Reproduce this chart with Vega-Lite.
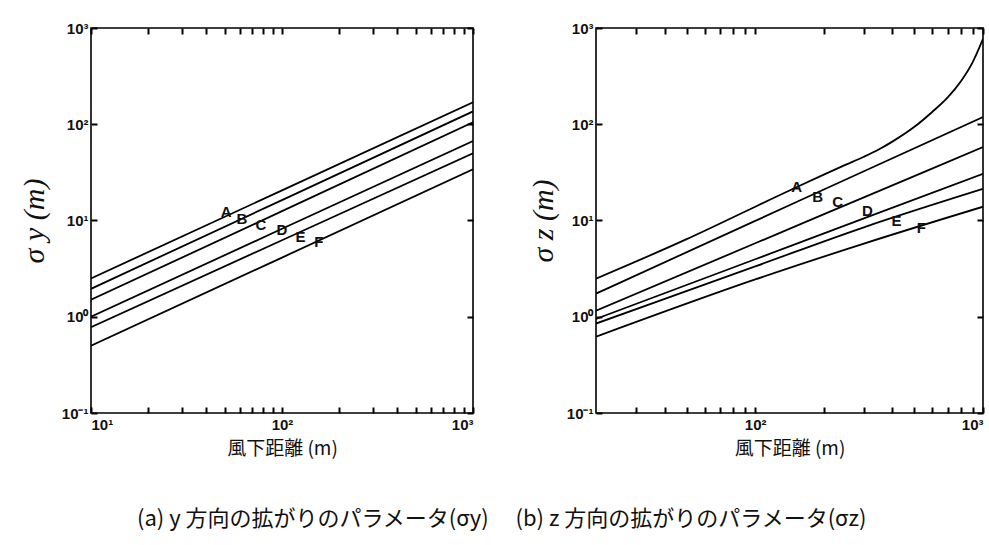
{
  "$schema": "https://vega.github.io/schema/vega-lite/v6.json",
  "background": "white",
  "padding": {"left": 18, "top": 20, "right": 5, "bottom": 8},
  "datasets": {
    "sy": [
      {"c": "A", "x": 10, "v": 2.5}, {"c": "A", "x": 100, "v": 20.55}, {"c": "A", "x": 1000, "v": 169},
      {"c": "B", "x": 10, "v": 1.95}, {"c": "B", "x": 100, "v": 16.3}, {"c": "B", "x": 1000, "v": 136},
      {"c": "C", "x": 10, "v": 1.5}, {"c": "C", "x": 100, "v": 12.5}, {"c": "C", "x": 1000, "v": 105},
      {"c": "D", "x": 10, "v": 1.0}, {"c": "D", "x": 100, "v": 8.2}, {"c": "D", "x": 1000, "v": 67},
      {"c": "E", "x": 10, "v": 0.78}, {"c": "E", "x": 100, "v": 6.24}, {"c": "E", "x": 1000, "v": 50},
      {"c": "F", "x": 10, "v": 0.5}, {"c": "F", "x": 100, "v": 4.12}, {"c": "F", "x": 1000, "v": 34}
    ],
    "ly": [
      {"c": "A", "x": 51, "v": 12.2}, {"c": "B", "x": 61.7, "v": 10.4}, {"c": "C", "x": 77.6, "v": 9.0},
      {"c": "D", "x": 100, "v": 7.95}, {"c": "E", "x": 125, "v": 6.7}, {"c": "F", "x": 156, "v": 6.0}
    ],
    "sz": [
      {"c": "A", "x": 20, "v": 2.49}, {"c": "A", "x": 50, "v": 6.4}, {"c": "A", "x": 100, "v": 13.9}, {"c": "A", "x": 150, "v": 21.9}, {"c": "A", "x": 200, "v": 30}, {"c": "A", "x": 250, "v": 38}, {"c": "A", "x": 300, "v": 46}, {"c": "A", "x": 350, "v": 55}, {"c": "A", "x": 400, "v": 66}, {"c": "A", "x": 500, "v": 94}, {"c": "A", "x": 600, "v": 135}, {"c": "A", "x": 700, "v": 190}, {"c": "A", "x": 800, "v": 280}, {"c": "A", "x": 900, "v": 440}, {"c": "A", "x": 1000, "v": 771},
      {"c": "B", "x": 20, "v": 1.74}, {"c": "B", "x": 100, "v": 9.9}, {"c": "B", "x": 300, "v": 32.5}, {"c": "B", "x": 1000, "v": 119},
      {"c": "C", "x": 20, "v": 1.155}, {"c": "C", "x": 100, "v": 5.8}, {"c": "C", "x": 300, "v": 17.4}, {"c": "C", "x": 1000, "v": 58},
      {"c": "D", "x": 20, "v": 0.95}, {"c": "D", "x": 100, "v": 3.96}, {"c": "D", "x": 300, "v": 10.5}, {"c": "D", "x": 1000, "v": 30.5},
      {"c": "E", "x": 20, "v": 0.85}, {"c": "E", "x": 100, "v": 3.34}, {"c": "E", "x": 300, "v": 8.5}, {"c": "E", "x": 1000, "v": 21.3},
      {"c": "F", "x": 20, "v": 0.62}, {"c": "F", "x": 100, "v": 2.44}, {"c": "F", "x": 300, "v": 5.75}, {"c": "F", "x": 1000, "v": 13.9}
    ],
    "lz": [
      {"c": "A", "x": 152, "v": 22.4}, {"c": "B", "x": 188, "v": 17.6}, {"c": "C", "x": 230, "v": 15.6},
      {"c": "D", "x": 311, "v": 12.6}, {"c": "E", "x": 417, "v": 9.9}, {"c": "F", "x": 536, "v": 8.4}
    ]
  },
  "title": {
    "text": "(a) y 方向の拡がりのパラメータ(σy)　 (b) z 方向の拡がりのパラメータ(σz)",
    "orient": "bottom",
    "anchor": "middle",
    "font": "Noto Sans CJK JP",
    "fontSize": 22,
    "fontWeight": "normal",
    "color": "#111",
    "offset": 50
  },
  "config": {
    "view": {"stroke": "black", "strokeWidth": 1.6},
    "axis": {
      "grid": false,
      "domain": false,
      "tickColor": "black",
      "tickSize": -6,
      "tickWidth": 2,
      "labelFont": "Liberation Sans",
      "labelFontWeight": "bold",
      "labelFontSize": 15,
      "labelColor": "#111"
    }
  },
  "spacing": 52,
  "hconcat": [
    {
      "width": 382,
      "height": 385,
      "layer": [
        {
          "data": {"name": "sy"},
          "mark": {"type": "line", "color": "black", "strokeWidth": 1.8, "clip": true},
          "encoding": {
            "x": {"field": "x", "type": "quantitative",
              "scale": {"type": "log", "domain": [10, 1000], "nice": false},
              "axis": {"orient": "bottom", "values": [10,20,30,40,50,60,70,80,90,100,200,300,400,500,600,700,800,900,1000],
                "labelExpr": "datum.value==10?'10¹':datum.value==100?'10²':datum.value==1000?'10³':''",
                "labelPadding": 10, "labelOverlap": false,
                "title": "風下距離 (m)", "titleFont": "Noto Sans CJK JP", "titleFontSize": 19, "titleFontWeight": "normal", "titleColor": "#111", "titlePadding": 7}},
            "y": {"field": "v", "type": "quantitative",
              "scale": {"type": "log", "domain": [0.1, 1000], "nice": false},
              "axis": {"orient": "left", "values": [0.1, 1, 10, 100, 1000],
                "labelExpr": "datum.value<0.5?'10⁻¹':datum.value<5?'10⁰':datum.value<50?'10¹':datum.value<500?'10²':'10³'",
                "labelPadding": 9,
                "title": "σ y (m)", "titleFont": "Liberation Serif", "titleFontStyle": "italic", "titleFontSize": 30, "titleFontWeight": "normal", "titleColor": "#111", "titlePadding": 12}},
            "detail": {"field": "c"}
          }
        },
        {
          "data": {"name": "ly"},
          "mark": {"type": "text", "font": "Liberation Sans", "fontWeight": "bold", "fontSize": 15, "color": "#111"},
          "encoding": {
            "x": {"field": "x", "type": "quantitative",
              "axis": {"orient": "top", "values": [10,20,30,40,50,60,70,80,90,100,200,300,400,500,600,700,800,900,1000], "labels": false, "title": null}},
            "y": {"field": "v", "type": "quantitative",
              "axis": {"orient": "right", "values": [0.1, 1, 10, 100, 1000], "labels": false, "title": null}},
            "text": {"field": "c"}
          }
        }
      ],
      "resolve": {"axis": {"x": "independent", "y": "independent"}}
    },
    {
      "width": 387,
      "height": 385,
      "layer": [
        {
          "data": {"name": "sz"},
          "mark": {"type": "line", "color": "black", "strokeWidth": 1.8, "clip": true, "interpolate": "monotone"},
          "encoding": {
            "x": {"field": "x", "type": "quantitative",
              "scale": {"type": "log", "domain": [20, 1000], "nice": false},
              "axis": {"orient": "bottom", "values": [30,40,50,60,70,80,90,100,200,300,400,500,600,700,800,900,1000],
                "labelExpr": "datum.value==100?'10²':datum.value==1000?'10³':''",
                "labelPadding": 10, "labelOverlap": false,
                "title": "風下距離 (m)", "titleFont": "Noto Sans CJK JP", "titleFontSize": 19, "titleFontWeight": "normal", "titleColor": "#111", "titlePadding": 7}},
            "y": {"field": "v", "type": "quantitative",
              "scale": {"type": "log", "domain": [0.1, 1000], "nice": false},
              "axis": {"orient": "left", "values": [0.1, 1, 10, 100, 1000],
                "labelExpr": "datum.value<0.5?'10⁻¹':datum.value<5?'10⁰':datum.value<50?'10¹':datum.value<500?'10²':'10³'",
                "labelPadding": 9,
                "title": "σ z (m)", "titleFont": "Liberation Serif", "titleFontStyle": "italic", "titleFontSize": 30, "titleFontWeight": "normal", "titleColor": "#111", "titlePadding": 8}},
            "detail": {"field": "c"}
          }
        },
        {
          "data": {"name": "lz"},
          "mark": {"type": "text", "font": "Liberation Sans", "fontWeight": "bold", "fontSize": 15, "color": "#111"},
          "encoding": {
            "x": {"field": "x", "type": "quantitative",
              "axis": {"orient": "top", "values": [30,40,50,60,70,80,90,100,200,300,400,500,600,700,800,900,1000], "labels": false, "title": null}},
            "y": {"field": "v", "type": "quantitative",
              "axis": {"orient": "right", "values": [0.1, 1, 10, 100, 1000], "labels": false, "title": null}},
            "text": {"field": "c"}
          }
        }
      ],
      "resolve": {"axis": {"x": "independent", "y": "independent"}}
    }
  ]
}
